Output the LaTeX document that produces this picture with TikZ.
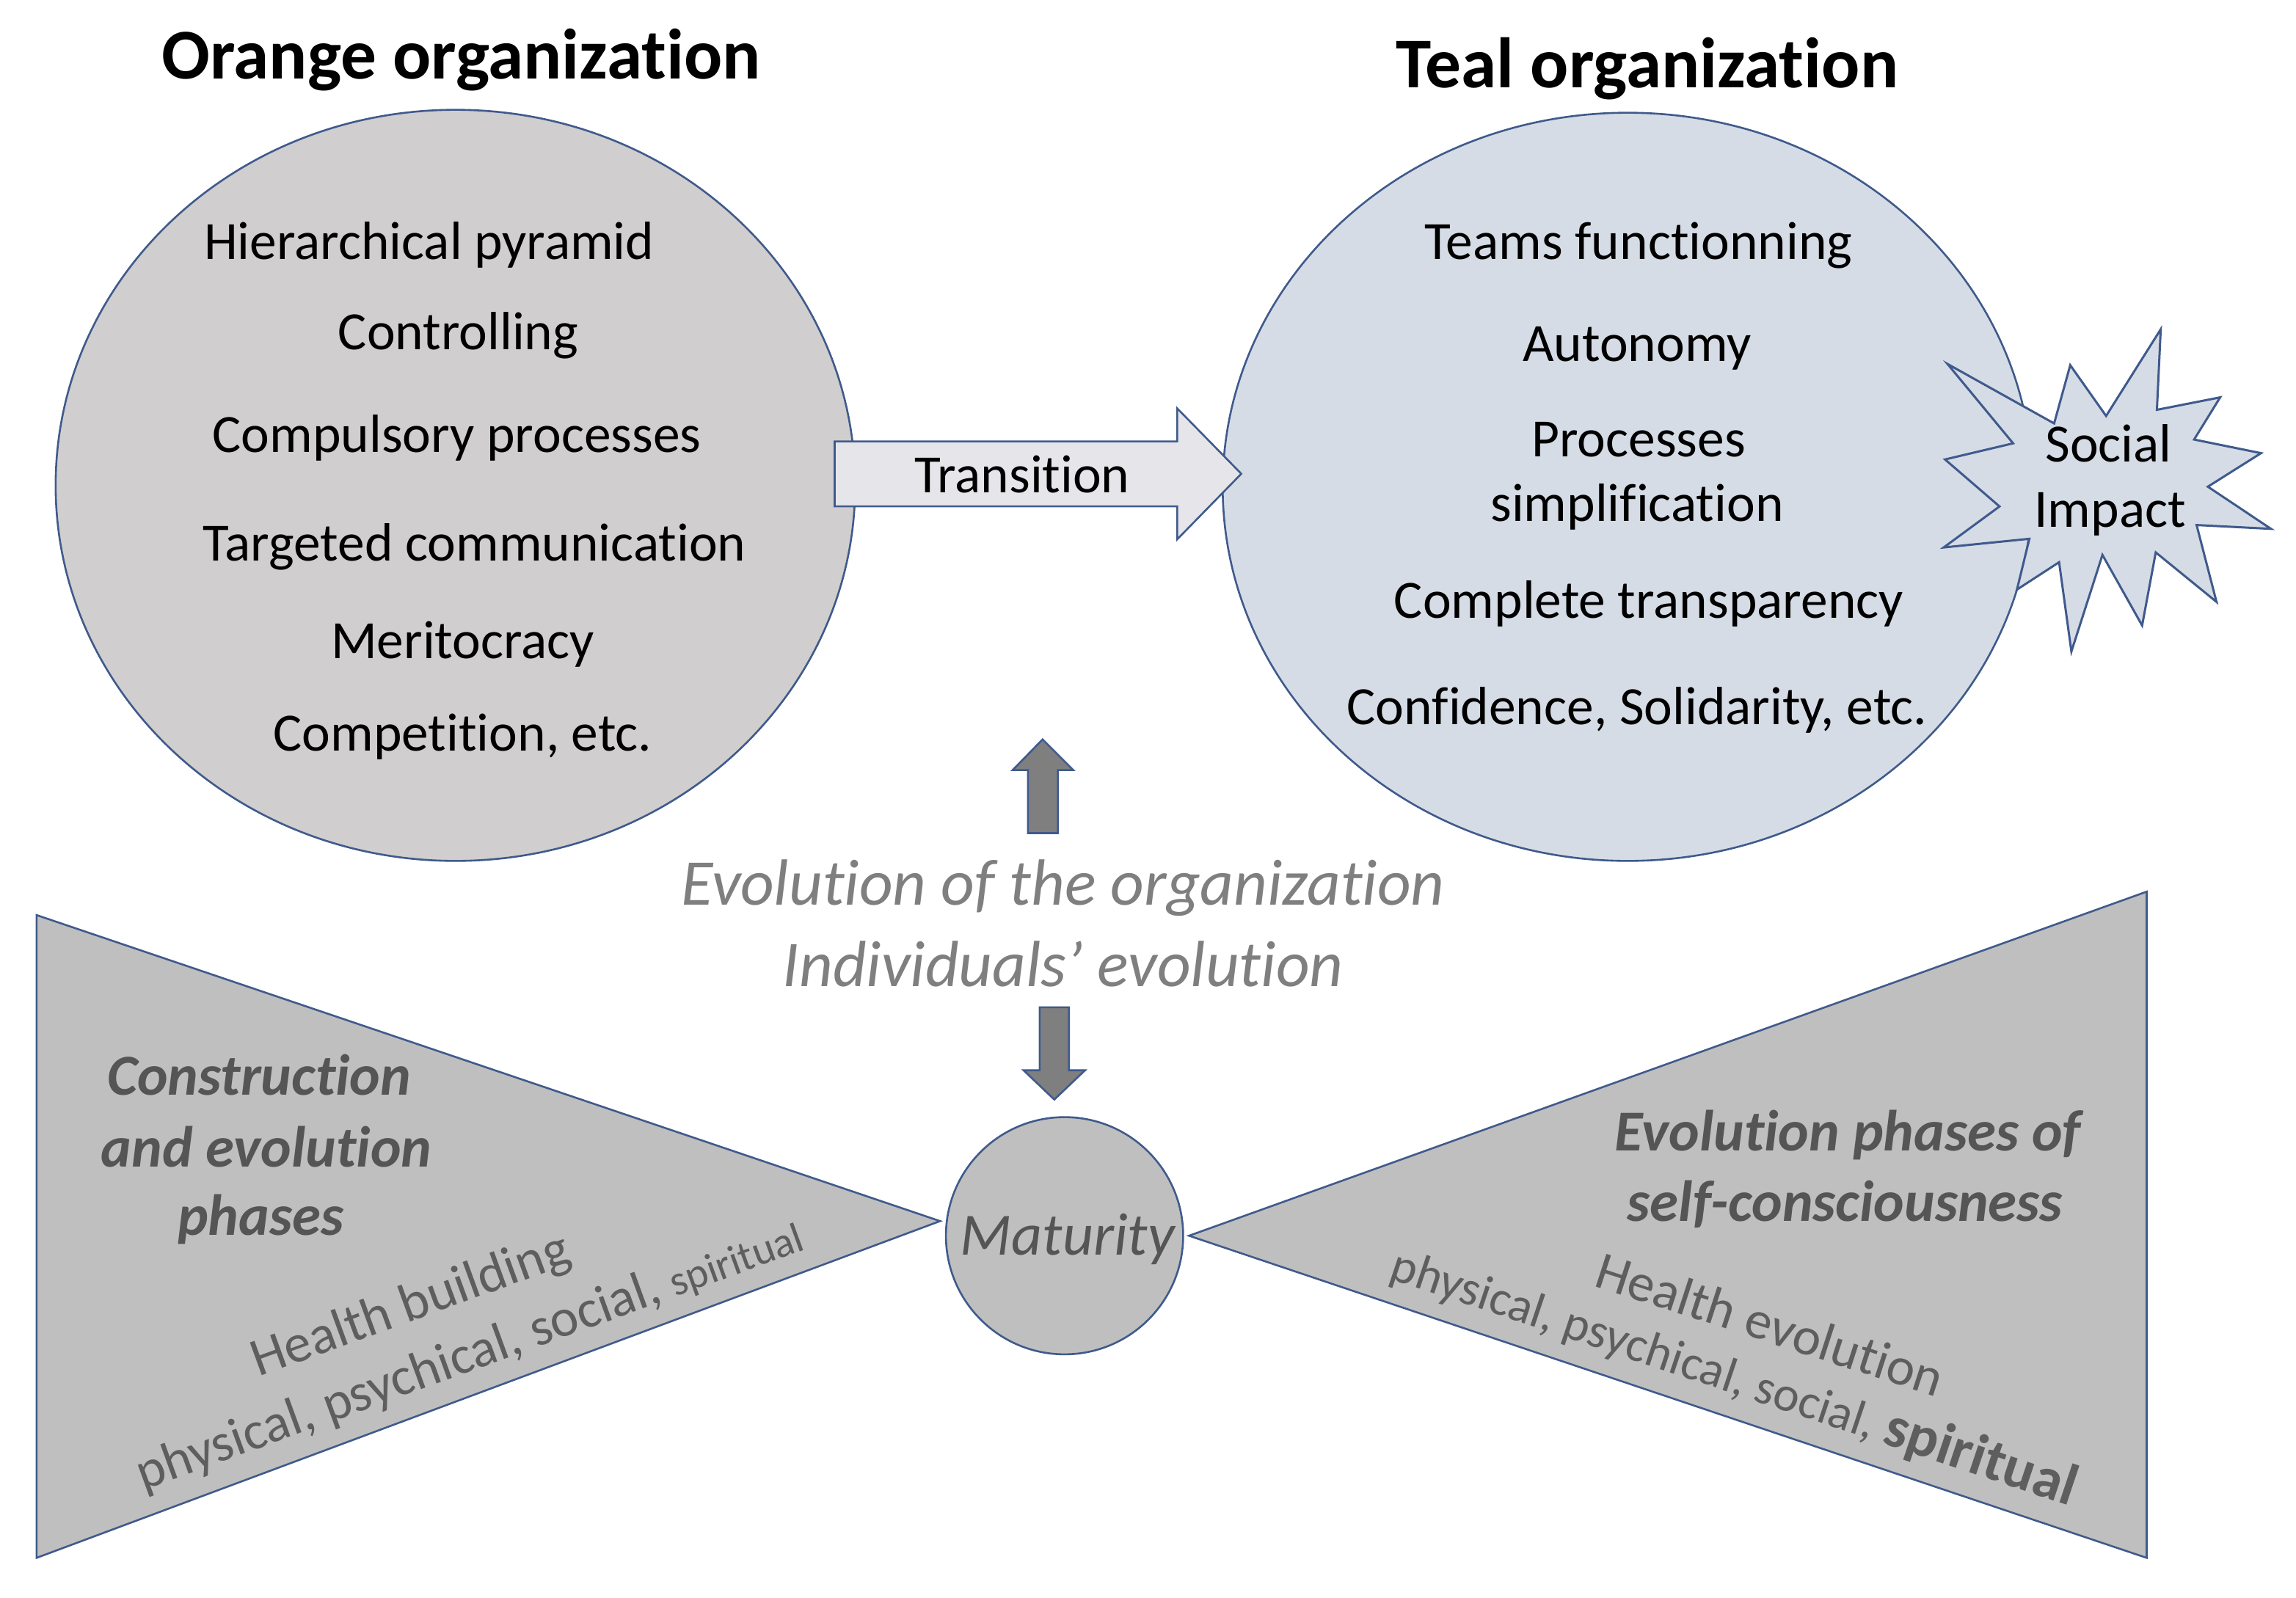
\documentclass[tikz,border=0pt]{standalone}
\usepackage{fontspec}
\setmainfont{Carlito}[Ligatures=NoCommon]
\usetikzlibrary{shapes.geometric}
\definecolor{outl}{HTML}{3F5A8C}
\definecolor{orgfill}{HTML}{D0CECE}
\definecolor{tealfill}{HTML}{D6DCE5}
\definecolor{arrfill}{HTML}{E6E6EA}
\definecolor{trifill}{HTML}{BFBFBF}
\definecolor{vafill}{HTML}{7F7F7F}
\definecolor{midtxt}{HTML}{7F7F7F}
\definecolor{headtxt}{HTML}{555555}
\definecolor{rottxt}{HTML}{5E5E5E}
\begin{document}
\begin{tikzpicture}[x=0.5pt,y=-0.5pt,
  outlined/.style={draw=outl,line width=0.65pt},
  txt/.style={inner sep=0pt,outer sep=0pt,anchor=base},
  body/.style={txt,font=\fontsize{18.4}{22}\selectfont},
  ttl/.style={txt,font=\bfseries\fontsize{24.4}{29}\selectfont},
  midt/.style={txt,font=\itshape\fontsize{22.3}{27}\selectfont,text=midtxt},
  head/.style={txt,font=\bfseries\itshape\fontsize{19.8}{24}\selectfont,text=headtxt},
  rot/.style={inner sep=0pt,outer sep=0pt,anchor=base west,text=rottxt},
]
\useasboundingbox (0,0) rectangle (1568,1091);
\fill[white] (0,0) rectangle (1568,1091);

% titles
\node[ttl] (ttlorange) at (315,54) {Orange organization};
\node[ttl] (ttlteal) at (1125,60) {Teal organization};

% bottom triangles
\coordinate (lt1) at (25,625);
\coordinate (lt2) at (25,1064);
\coordinate (ltip) at (642,834);
\draw[outlined,fill=trifill] (lt1) -- (ltip) -- (lt2) -- cycle;
\coordinate (rt1) at (1466,609);
\coordinate (rt2) at (1466,1064);
\coordinate (rtip) at (812,844);
\draw[outlined,fill=trifill] (rt1) -- (rtip) -- (rt2) -- cycle;

% organization circles
\node[ellipse,outlined,fill=orgfill,minimum width=273pt,minimum height=256.5pt,inner sep=0pt] (orange) at (311,331.5) {};
\node[ellipse,outlined,fill=tealfill,minimum width=276.5pt,minimum height=255.5pt,inner sep=0pt] (teal) at (1111.5,332.5) {};

% social impact explosion
\draw[outlined,line width=0.75pt,fill=tealfill]
  (1330.0,248.6) -- (1402.8,289.2) -- (1413.8,249.4) -- (1438.3,284.1) --
  (1475.6,224.9) -- (1473.0,279.9) -- (1516.2,271.4) -- (1498.4,300.2) --
  (1544.1,309.5) -- (1507.8,332.4) -- (1550.9,361.2) -- (1500.1,358.6) --
  (1513.7,411.1) -- (1472.2,377.3) -- (1462.9,427.2) -- (1435.8,379.0) --
  (1414.6,445.0) -- (1406.2,384.0) -- (1377.4,402.7) -- (1385.9,368.0) --
  (1327.4,373.9) -- (1365.5,345.9) -- (1328.3,313.8) -- (1374.8,302.8) -- cycle;
\node[body] (soc1) at (1440,315.7) {Social};
\node[body] (soc2) at (1441,360) {Impact};

% transition arrow
\draw[outlined,fill=arrfill] (570,301.5) -- (804,301.5) -- (804,279) -- (847.7,323.6)
  -- (804,368.3) -- (804,345.8) -- (570,345.8) -- cycle;
\node[body] (trans) at (698,336.6) {Transition};

% left circle texts
\node[body] (o1) at (293,177) {Hierarchical pyramid};
\node[body] (o2) at (313,239) {Controlling};
\node[body] (o3) at (312,309) {Compulsory processes};
\node[body] (o4) at (324,383) {Targeted communication};
\node[body] (o5) at (316,450) {Meritocracy};
\node[body] (o6) at (316,513) {Competition, etc.};

% right circle texts
\node[body] (t1) at (1119,177) {Teams functionning};
\node[body] (t2) at (1118,247) {Autonomy};
\node[body] (t3) at (1119,312) {Processes};
\node[body] (t4) at (1118,356) {simplification};
\node[body] (t5) at (1126,422) {Complete transparency};
\node[body] (t6) at (1118,495) {Confidence, Solidarity, etc.};

% vertical arrows
\draw[outlined,fill=vafill] (712,505) -- (733,526) -- (722.5,526) -- (722.5,569)
  -- (702,569) -- (702,526) -- (691.5,526) -- cycle;
\draw[outlined,fill=vafill] (710,688) -- (730,688) -- (730,731) -- (741,731)
  -- (720,751) -- (699,731) -- (710,731) -- cycle;

% middle texts
\node[midt] (m1) at (726,618) {Evolution of the organization};
\node[midt] (m2) at (726,673.6) {Individuals’ evolution};

% maturity
\node[circle,outlined,fill=trifill,minimum size=81pt,inner sep=0pt] (mat) at (727,844) {};
\node[txt,font=\itshape\fontsize{20.5}{24}\selectfont,text=headtxt] (matt) at (729,857) {Maturity};

% left triangle texts
\node[head] (lh1) at (177,748) {Construction};
\node[head] (lh2) at (182,797) {and evolution};
\node[head] (lh3) at (178,843.6) {phases};
\node[rot,rotate=20,font=\fontsize{18.5}{22}\selectfont] (lhb) at (176.6,940.5) {Health building};
\node[rot,rotate=20] (lhp) at (98,1018) {\fontsize{18.3}{22}\selectfont physical, psychical, social, \fontsize{14.5}{17}\selectfont spiritual};

% right triangle texts
\node[head] (rh1) at (1262,785.8) {Evolution phases of};
\node[head] (rh2) at (1260,834.3) {self-consciousness};
\node[rot,rotate=-18,font=\fontsize{18.3}{22}\selectfont] (rhe) at (1087.7,878) {Health evolution};
\node[rot,rotate=-18.5] (rhp) at (948,873) {\fontsize{16.8}{20}\selectfont physical, psychical, social, \bfseries\fontsize{20}{24}\selectfont spiritual};
\end{tikzpicture}
\end{document}
